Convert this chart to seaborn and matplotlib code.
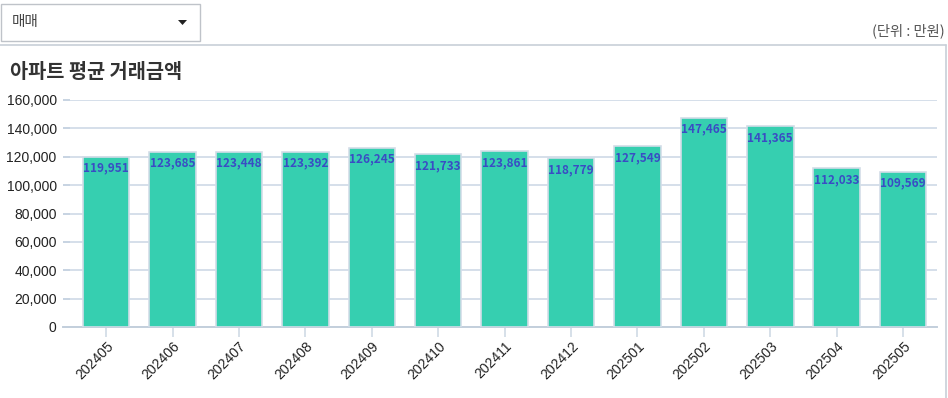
import matplotlib
matplotlib.use("Agg")
import matplotlib.pyplot as plt
import seaborn as sns
import pandas as pd
from matplotlib.patches import Rectangle, Polygon
from matplotlib.lines import Line2D
from matplotlib.ticker import FuncFormatter, MultipleLocator

months = ["202405", "202406", "202407", "202408", "202409", "202410", "202411",
          "202412", "202501", "202502", "202503", "202504", "202505"]
prices = [119951, 123685, 123448, 123392, 126245, 121733, 123861,
          118779, 127549, 147465, 141365, 112033, 109569]
title = "아파트 평균 거래금액"
unit_label = "(단위 : 만원)"
dropdown_label = "매매"

sns.set_theme(style="white")
plt.rcParams['font.family'] = ['Liberation Sans', 'Noto Sans CJK KR', 'DejaVu Sans']

W, H = 948, 398
fig = plt.figure(figsize=(W / 100, H / 100), dpi=100)

def fx(px):
    return px / W

def fy(py):
    return 1 - py / H

ax = fig.add_axes([fx(63), fy(327), fx(937) - fx(63), fy(100) - fy(327)])
df = pd.DataFrame({"month": months, "price": prices})
sns.barplot(data=df, x="month", y="price", order=months, color="#36cfb0",
            saturation=1, width=0.7, edgecolor="#d3dde8", linewidth=1.2, ax=ax, zorder=3)

ax.set_ylim(0, 160000)
ax.set_xlim(-0.65, 12.51)
ax.yaxis.set_major_locator(MultipleLocator(20000))
ax.yaxis.set_major_formatter(FuncFormatter(lambda v, p: f"{int(v):,}"))
ax.grid(axis="y", color="#d5dfea", linewidth=1.4, zorder=0)
ax.set_axisbelow(True)
for s in ["top", "right", "left"]:
    ax.spines[s].set_visible(False)
ax.spines["bottom"].set_color("#c3cfdc")
ax.spines["bottom"].set_linewidth(1.4)
ax.set_xlabel("")
ax.set_ylabel("")
ax.tick_params(axis="y", direction="in", length=5, width=1.4, color="#c8d4e2",
               labelsize=10, labelcolor="#222222", pad=4.5, left=True)
ax.tick_params(axis="x", length=7, width=1.2, color="#d0dae5", labelsize=10,
               labelcolor="#222222", pad=2, bottom=True)
for lbl in ax.get_xticklabels():
    lbl.set_rotation(45)
    lbl.set_ha("right")
    lbl.set_rotation_mode("anchor")

for i, v in enumerate(prices):
    ax.annotate(f"{v:,}", (i, v), xytext=(0, -3.5), textcoords="offset points",
                ha="center", va="top", fontsize=8.5, color="#3a4cc4",
                fontweight="bold", family=["Noto Sans CJK KR", "DejaVu Sans"], zorder=5)

# page decorations
fig.patches.append(Rectangle((fx(1), fy(41)), fx(200) - fx(1), fy(4) - fy(41),
                             transform=fig.transFigure, fill=False,
                             edgecolor="#bfc3c9", linewidth=1.0))
fig.text(fx(12), fy(22), dropdown_label, ha="left", va="center", fontsize=10.5,
         color="#444444", family=["Noto Sans CJK KR", "DejaVu Sans"])
fig.patches.append(Polygon([[fx(178), fy(20)], [fx(187), fy(20)], [fx(182.5), fy(25)]],
                           closed=True, transform=fig.transFigure,
                           facecolor="#222222", edgecolor="none"))
fig.text(fx(945), fy(31), unit_label, ha="right", va="center", fontsize=10.3,
         color="#555555", family=["Noto Sans CJK KR", "DejaVu Sans"])
fig.lines.append(Line2D([0, fx(946)], [fy(45), fy(45)], transform=fig.transFigure,
                        color="#c8cfd8", linewidth=1.2))
fig.lines.append(Line2D([fx(946), fx(946)], [fy(45), 0], transform=fig.transFigure,
                        color="#c8cfd8", linewidth=1.2))
fig.text(fx(10), fy(72), title, ha="left", va="center", fontsize=14.2,
         fontweight="bold", color="#333333", family=["Noto Sans CJK KR", "DejaVu Sans"])

fig.savefig("out.png", dpi=100)
